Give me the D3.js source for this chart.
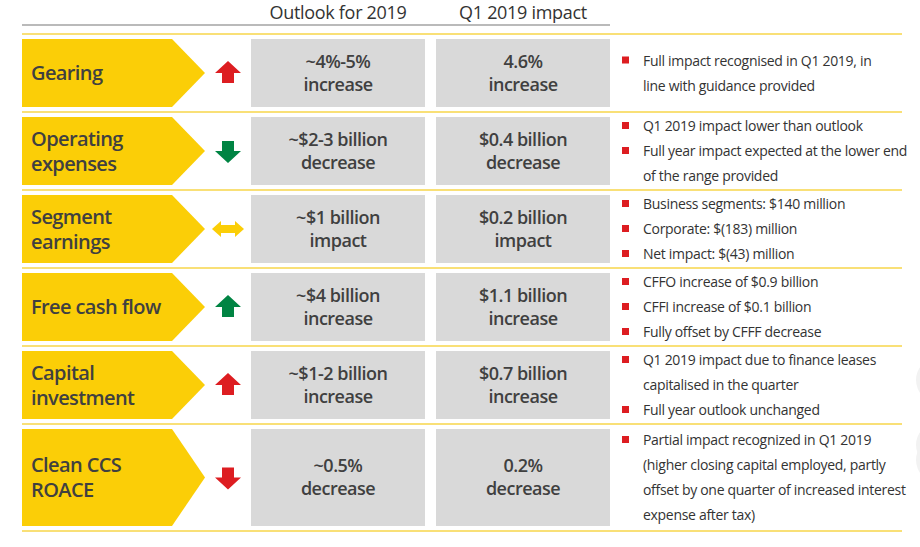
<!DOCTYPE html>
<html><head><meta charset="utf-8">
<script src="https://cdn.jsdelivr.net/npm/d3@7"></script>
<style>body{margin:0;background:#fff}svg{display:block}</style>
</head><body>
<script>
const headers = ["Outlook for 2019", "Q1 2019 impact"];
const labels = [["Gearing"],["Operating","expenses"],["Segment","earnings"],["Free cash flow"],["Capital","investment"],["Clean CCS","ROACE"]];
const arrows = ["up","down","both","upgreen","up","down"];
const outlook = [["~4%-5%","increase"],["~$2-3 billion","decrease"],["~$1 billion","impact"],["~$4 billion","increase"],["~$1-2 billion","increase"],["~0.5%","decrease"]];
const q1impact = [["4.6%","increase"],["$0.4 billion","decrease"],["$0.2 billion","impact"],["$1.1 billion","increase"],["$0.7 billion","increase"],["0.2%","decrease"]];
const bullets = [
 [["Full impact recognised in Q1 2019, in","line with guidance provided"]],
 [["Q1 2019 impact lower than outlook"],["Full year impact expected at the lower end","of the range provided"]],
 [["Business segments: $140 million"],["Corporate: $(183) million"],["Net impact: $(43) million"]],
 [["CFFO increase of $0.9 billion"],["CFFI increase of $0.1 billion"],["Fully offset by CFFF decrease"]],
 [["Q1 2019 impact due to finance leases","capitalised in the quarter"],["Full year outlook unchanged"]],
 [["Partial impact recognized in Q1 2019","(higher closing capital employed, partly","offset by one quarter of increased interest","expense after tax)"]]
];
const rowTop = [39,117,195,273,351,429];
const rowH = [68,68,68,68,68,97];
const seps = [34,112,190,268,346,424,531];

const svg = d3.select("body").append("svg").attr("width",920).attr("height",547);
const font = "'Open Sans', sans-serif";
const dark = "#404040";

[380,445,460].forEach(cy=>svg.append("circle").attr("cx",938).attr("cy",cy).attr("r",22).attr("fill","#f2f2f2"));

svg.selectAll("text.h").data(headers).join("text").attr("x",(d,i)=>[338,523][i]).attr("y",19)
 .attr("text-anchor","middle").attr("font-family",font).attr("font-size",18).attr("letter-spacing",-0.3).attr("fill","#333").text(d=>d);
svg.append("line").attr("x1",22).attr("x2",610).attr("y1",25).attr("y2",25).attr("stroke","#777").attr("stroke-width",1.2);
seps.forEach(y=>svg.append("line").attr("x1",22).attr("x2",902).attr("y1",y).attr("y2",y).attr("stroke","#f7d64a").attr("stroke-width",1.5));

const g = svg.selectAll("g.row").data(labels).join("g");
g.each(function(lab,i){
  const s=d3.select(this), t=rowTop[i], h=rowH[i], m=t+h/2;
  s.append("path").attr("d",`M22,${t}H172L205,${m}L172,${t+h}H22Z`).attr("fill","#fbce07");
  lab.forEach((l,j)=>s.append("text").attr("x",31).attr("y",m+7+(j-(lab.length-1)/2)*25)
    .attr("font-family",font).attr("font-size",20).attr("font-weight",600).attr("letter-spacing",-0.6).attr("fill",dark).text(l));
  const ax=228, a=arrows[i];
  const red="#dd1d21", green="#008443", yel="#fbce07";
  if(a==="up"||a==="upgreen") s.append("path").attr("d",`M${ax},${m-12}L${ax+13},${m}H${ax+6}V${m+10}H${ax-6}V${m}H${ax-13}Z`).attr("fill",a==="up"?red:green);
  if(a==="down") s.append("path").attr("d",`M${ax},${m+12}L${ax+13},${m}H${ax+6}V${m-10}H${ax-6}V${m}H${ax-13}Z`).attr("fill",i===1?green:red);
  if(a==="both") s.append("path").attr("d",`M${ax-16},${m}L${ax-7},${m-8}V${m-4}H${ax+7}V${m-8}L${ax+16},${m}L${ax+7},${m+8}V${m+4}H${ax-7}V${m+8}Z`).attr("fill",yel);
  [[251,425,outlook[i]],[436,610,q1impact[i]]].forEach(([x0,x1,tx])=>{
    s.append("rect").attr("x",x0).attr("y",t).attr("width",x1-x0).attr("height",h).attr("fill","#d9d9d9");
    tx.forEach((l,j)=>s.append("text").attr("x",(x0+x1)/2).attr("y",m+6+(j-0.5)*23).attr("text-anchor","middle")
      .attr("font-family",font).attr("font-size",18).attr("font-weight",600).attr("letter-spacing",-0.5).attr("fill",dark).text(l));
  });
  const lines=[]; bullets[i].forEach(b=>b.forEach((l,k)=>lines.push([l,k===0])));
  const lh=25, y0=m-(lines.length-1)*lh/2;
  lines.forEach(([l,first],k)=>{
    const y=y0+k*lh;
    if(first) s.append("rect").attr("x",622).attr("y",y-4).attr("width",7).attr("height",7).attr("fill","#dd1d21");
    s.append("text").attr("x",643).attr("y",y+5).attr("font-family",font).attr("font-size",14).attr("letter-spacing",-0.3).attr("fill","#333").text(l);
  });
});
</script>
</body></html>
